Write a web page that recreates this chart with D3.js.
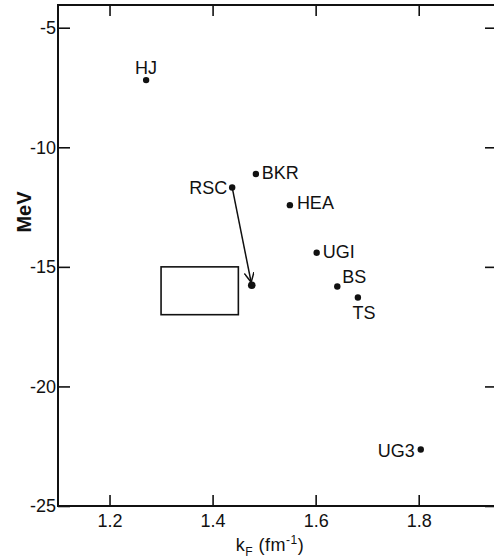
<!DOCTYPE html>
<html>
<head>
<meta charset="utf-8">
<script src="https://cdn.jsdelivr.net/npm/d3@7"></script>
<style>
  body { margin: 0; background: #fff; }
  svg { display: block; font-family: "Liberation Sans", Arial, sans-serif; }
</style>
</head>
<body>
<svg id="chart" width="494" height="558"></svg>
<script>
// Binding energy vs Fermi momentum for several nuclear-matter calculations.

const names = ['HJ', 'BKR', 'RSC', 'HEA', 'UGI', 'BS', 'TS', 'UG3'];
const kF = [1.271, 1.484, 1.438, 1.550, 1.602, 1.642, 1.682, 1.804];
const energy = [-7.19, -11.12, -11.68, -12.42, -14.41, -15.82, -16.28, -22.64];

// RSC shifted point (arrow target)
const rscShift = { kF: 1.476, energy: -15.77 };

// empirical saturation box
const boxKF = [1.30, 1.45];
const boxE = [-15, -17];

const xTicks = [1.2, 1.4, 1.6, 1.8];
const yTicks = [-5, -10, -15, -20, -25];

// label placement per point: [dx, dy, anchor]
const LABEL_POS = {
  HJ:  [0, -6, 'middle'],
  BKR: [6, 5, 'start'],
  RSC: [-5, 7, 'end'],
  HEA: [7, 4, 'start'],
  UGI: [6, 5, 'start'],
  BS:  [5, -3, 'start'],
  TS:  [6, 22, 'middle'],
  UG3: [-6, 7, 'end']
};

const INK = '#111';
const FS = '18px';
const m = { top: 5, left: 58 };
const W = 438, H = 501;

const svg = d3.select('#chart');
const root = svg.append('g').attr('transform', `translate(${m.left},${m.top})`);

const x = d3.scaleLinear().domain([1.1, 1.95]).range([0, W]);
const y = d3.scaleLinear().domain([-25, -4.05]).range([H, 0]);

const styleAxis = g => {
  g.select('.domain').remove();
  g.selectAll('line').attr('stroke', INK).attr('stroke-width', 1.6);
  g.selectAll('text').attr('fill', INK).style('font-size', FS);
};

root.append('g').attr('transform', `translate(0,${H})`)
  .call(d3.axisBottom(x).tickValues(xTicks).tickSize(-11).tickPadding(8).tickFormat(d3.format('.1f')))
  .call(styleAxis);
root.append('g')
  .call(d3.axisTop(x).tickValues(xTicks).tickSize(-11).tickFormat(''))
  .call(styleAxis);
root.append('g')
  .call(d3.axisLeft(y).tickValues(yTicks).tickSize(-12).tickPadding(2).tickFormat(v => String(v)))
  .call(styleAxis);
root.append('g').attr('transform', `translate(${W},0)`)
  .call(d3.axisRight(y).tickValues(yTicks).tickSize(-11).tickFormat(''))
  .call(styleAxis);

root.append('rect').attr('x', 0).attr('y', 0).attr('width', W).attr('height', H)
  .attr('fill', 'none').attr('stroke', INK).attr('stroke-width', 2);

// box
root.append('rect')
  .attr('x', x(boxKF[0])).attr('y', y(boxE[0]))
  .attr('width', x(boxKF[1]) - x(boxKF[0])).attr('height', y(boxE[1]) - y(boxE[0]))
  .attr('fill', 'none').attr('stroke', INK).attr('stroke-width', 1.6);

// arrow
svg.append('defs').append('marker')
  .attr('id', 'arr').attr('viewBox', '0 0 10 10').attr('refX', 10).attr('refY', 5)
  .attr('markerWidth', 10).attr('markerHeight', 10).attr('markerUnits', 'userSpaceOnUse')
  .attr('orient', 'auto')
  .append('path').attr('d', 'M0,0L10,5L0,10').attr('fill', 'none')
  .attr('stroke', INK).attr('stroke-width', 1.5);

const rsc = names.indexOf('RSC');
const x0 = x(kF[rsc]), y0 = y(energy[rsc]);
const x1 = x(rscShift.kF), y1 = y(rscShift.energy);
const len = Math.hypot(x1 - x0, y1 - y0);
const ex = x0 + (x1 - x0) * (len - 3) / len, ey = y0 + (y1 - y0) * (len - 3) / len;
root.append('line').attr('x1', x0).attr('y1', y0).attr('x2', ex).attr('y2', ey)
  .attr('stroke', INK).attr('stroke-width', 1.5).attr('marker-end', 'url(#arr)');

root.append('circle').attr('cx', x1).attr('cy', y1).attr('r', 3.8).attr('fill', INK);

// points + labels
names.forEach((n, i) => {
  const cx = x(kF[i]), cy = y(energy[i]);
  root.append('circle').attr('cx', cx).attr('cy', cy).attr('r', 3.2).attr('fill', INK);
  const [dx, dy, anchor] = LABEL_POS[n];
  root.append('text').attr('x', cx + dx).attr('y', cy + dy)
    .attr('text-anchor', anchor).attr('fill', INK).style('font-size', FS)
    .text(n);
});

// axis titles
const xt = svg.append('text').attr('x', 270).attr('y', 551).attr('text-anchor', 'middle')
  .attr('fill', INK).style('font-size', FS).style('letter-spacing', '0.5px');
xt.append('tspan').text('k');
xt.append('tspan').attr('dy', 5).style('font-size', '12px').text('F');
xt.append('tspan').attr('dy', -5).text(' (fm');
xt.append('tspan').attr('dy', -7).style('font-size', '12px').text('-1');
xt.append('tspan').attr('dy', 7).text(')');

svg.append('text').attr('transform', 'translate(31,212) rotate(-90)')
  .attr('text-anchor', 'middle').attr('fill', INK)
  .style('font-size', '20px').style('font-weight', 'bold').text('MeV');
</script>
</body>
</html>
